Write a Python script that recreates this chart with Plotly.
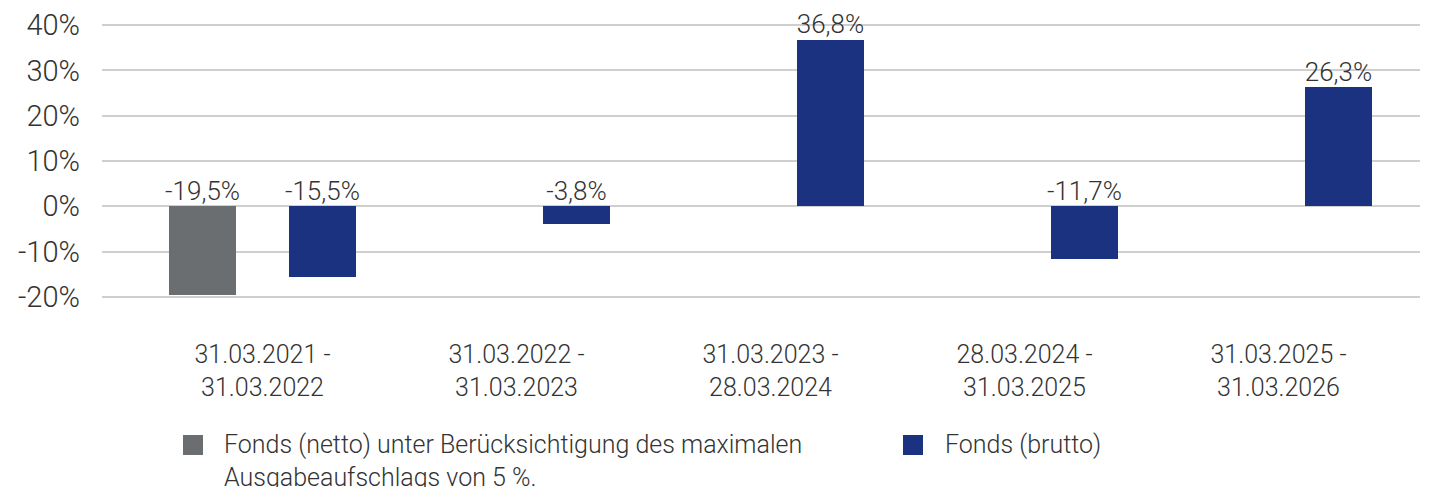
import plotly.graph_objects as go

categories = ["31.03.2021 -<br>31.03.2022", "31.03.2022 -<br>31.03.2023", "31.03.2023 -<br>28.03.2024",
              "28.03.2024 -<br>31.03.2025", "31.03.2025 -<br>31.03.2026"]
netto = [-19.5, None, None, None, None]
brutto = [-15.5, -3.8, 36.8, -11.7, 26.3]
netto_name = "Fonds (netto) unter Berücksichtigung des maximalen<br>Ausgabeaufschlags von 5 %."
brutto_name = "Fonds (brutto)"
y_ticks = [-20, -10, 0, 10, 20, 30, 40]

GREY = "#6a6e70"
BLUE = "#1b3280"
TXT = "#333333"
FONT = "Roboto"
WT = 300

OFF = 0.236
W = 0.264
idx = list(range(len(categories)))

def fmt(v):
    return f"{v:.1f}".replace(".", ",") + "%"

fig = go.Figure()
series = [(netto, -OFF, GREY, netto_name), (brutto, OFF, BLUE, brutto_name)]
for vals, off, col, name in series:
    xs = [i + off for i, v in zip(idx, vals) if v is not None]
    ys = [v for v in vals if v is not None]
    fig.add_trace(go.Bar(x=xs, y=ys, width=W, marker=dict(color=col, line=dict(width=0)),
                         name=name, showlegend=False, hoverinfo="skip"))
    fig.add_trace(go.Scatter(x=xs, y=[max(v, 0) for v in ys], mode="text",
                             text=[fmt(v) for v in ys], textposition="top center",
                             textfont=dict(family=FONT, size=26, color=TXT, weight=WT),
                             cliponaxis=False, showlegend=False, hoverinfo="skip"))

# page has an 8px body margin: figure coords = screen coords - 8
S = 8
FW, FH = 1433 - S, 487 - S
fig.update_layout(
    width=FW, height=FH,
    margin=dict(l=102 - S, r=13, t=16 - S, b=FH - (306 - S)),
    plot_bgcolor="white", paper_bgcolor="white",
    font=dict(family=FONT, color=TXT, weight=WT),
    bargap=0,
)
fig.update_xaxes(range=[-0.632, 4.557], tickvals=idx, ticktext=categories,
                 showgrid=False, zeroline=False, showline=False, automargin=False,
                 tickfont=dict(family=FONT, size=25, color=TXT, weight=WT),
                 ticks="", ticklabelstandoff=31)
fig.update_yaxes(range=[-22, 42], tickvals=y_ticks, ticktext=[f"{t}%" for t in y_ticks],
                 showgrid=True, gridcolor="#cfcfcf", gridwidth=1.5,
                 zeroline=True, zerolinecolor="#cfcfcf", zerolinewidth=1.5,
                 showline=False, automargin=False,
                 tickfont=dict(family=FONT, size=29, color=TXT, weight=WT),
                 ticks="", ticklabelstandoff=21)

# legend drawn in screen-pixel based paper coordinates
PL, PW, PB, PH = 102, 1318, 306, 290
def px(x):
    return (x - PL) / PW
def py(y):
    return (PB - y) / PH

legend = [(GREY, 183, 203, 435, 455, 222, netto_name), (BLUE, 903, 923, 435, 455, 943, brutto_name)]
for col, x0, x1, y0, y1, tx, name in legend:
    fig.add_shape(type="rect", xref="paper", yref="paper", x0=px(x0), x1=px(x1), y0=py(y1), y1=py(y0),
                  fillcolor=col, line=dict(width=0))
    fig.add_annotation(xref="paper", yref="paper", x=px(tx), y=py(428), xanchor="left", yanchor="top",
                       text=name, showarrow=False, align="left",
                       font=dict(family=FONT, size=25, color=TXT, weight=WT))

fig.write_html("out.html")
